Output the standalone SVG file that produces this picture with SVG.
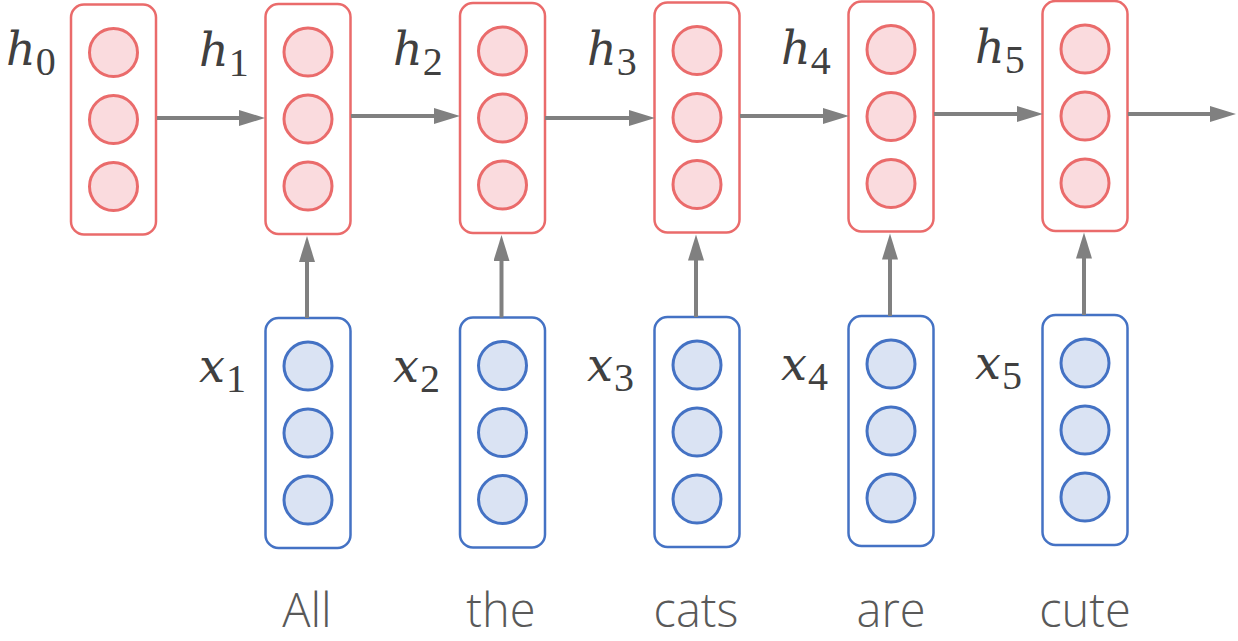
<svg xmlns="http://www.w3.org/2000/svg" width="1238" height="641" viewBox="0 0 1238 641">
  <style>
    .hbox { fill: #ffffff; stroke: #EA6B6B; stroke-width: 2.5; }
    .hdot { fill: #FADBDE; stroke: #EA6B6B; stroke-width: 3; }
    .xbox { fill: #ffffff; stroke: #4472C4; stroke-width: 2.5; }
    .xdot { fill: #DAE3F3; stroke: #4472C4; stroke-width: 3; }
    .edge { stroke: #808080; stroke-width: 4; fill: none; marker-end: url(#head); }
    .math { font-family: "DejaVu Serif", "Liberation Serif", serif; font-style: italic; font-size: 46px; fill: #404040; }
    .sub { font-family: "Liberation Serif", serif; font-style: normal; font-size: 40px; }
    .word { font-family: "Open Sans", "Liberation Sans", sans-serif; font-weight: 300; font-size: 47px; fill: #595959; text-anchor: middle; }
  </style>
  <defs>
    <marker id="head" markerUnits="userSpaceOnUse" markerWidth="27" markerHeight="16" refX="1" refY="8" orient="auto">
      <path d="M0,0 L26,8 L0,16 z" fill="#808080"/>
    </marker>
    <g id="hcell">
      <rect class="hbox" x="-42.5" y="-115" width="85" height="230" rx="13"/>
      <circle class="hdot" cx="0" cy="-67" r="24"/>
      <circle class="hdot" cx="0" cy="0" r="24"/>
      <circle class="hdot" cx="0" cy="67" r="24"/>
    </g>
    <g id="xcell">
      <rect class="xbox" x="-42.5" y="-115" width="85" height="230" rx="13"/>
      <circle class="xdot" cx="0" cy="-67" r="24"/>
      <circle class="xdot" cx="0" cy="0" r="24"/>
      <circle class="xdot" cx="0" cy="67" r="24"/>
    </g>
  </defs>

  <!-- hidden states -->
  <g id="h0"><use href="#hcell" x="113.5" y="119.5"/><text class="math" x="6" y="65">h<tspan class="sub" dy="10">0</tspan></text></g>
  <g id="h1"><use href="#hcell" x="308" y="119"/><text class="math" x="199" y="66">h<tspan class="sub" dy="10">1</tspan></text></g>
  <g id="h2"><use href="#hcell" x="502.5" y="118"/><text class="math" x="393" y="65">h<tspan class="sub" dy="10">2</tspan></text></g>
  <g id="h3"><use href="#hcell" x="697" y="117.5"/><text class="math" x="587" y="65">h<tspan class="sub" dy="10">3</tspan></text></g>
  <g id="h4"><use href="#hcell" x="891" y="116.5"/><text class="math" x="781" y="64">h<tspan class="sub" dy="10">4</tspan></text></g>
  <g id="h5"><use href="#hcell" x="1085" y="116"/><text class="math" x="975" y="63">h<tspan class="sub" dy="10">5</tspan></text></g>

  <!-- word inputs -->
  <g id="x1"><use href="#xcell" x="308" y="433"/><text class="math" x="199" y="382">x<tspan class="sub" dx="1" dy="10">1</tspan></text><text class="word" x="307" y="627">All</text></g>
  <g id="x2"><use href="#xcell" x="502.5" y="432.5"/><text class="math" x="393" y="382">x<tspan class="sub" dx="1" dy="10">2</tspan></text><text class="word" x="501" y="627">the</text></g>
  <g id="x3"><use href="#xcell" x="697" y="432"/><text class="math" x="587" y="381">x<tspan class="sub" dx="1" dy="10">3</tspan></text><text class="word" x="696" y="627">cats</text></g>
  <g id="x4"><use href="#xcell" x="891" y="431"/><text class="math" x="781" y="380">x<tspan class="sub" dx="1" dy="10">4</tspan></text><text class="word" x="891" y="627">are</text></g>
  <g id="x5"><use href="#xcell" x="1085" y="430"/><text class="math" x="975" y="379">x<tspan class="sub" dx="1" dy="10">5</tspan></text><text class="word" x="1085" y="627">cute</text></g>

  <!-- connectors -->
  <g id="connectors">
    <line class="edge" x1="157" y1="118" x2="240" y2="118"/>
    <line class="edge" x1="351" y1="116" x2="435" y2="116"/>
    <line class="edge" x1="545" y1="118" x2="630" y2="118"/>
    <line class="edge" x1="740" y1="116" x2="824" y2="116"/>
    <line class="edge" x1="934" y1="114" x2="1018" y2="114"/>
    <line class="edge" x1="1128" y1="114" x2="1211" y2="114"/>
    <line class="edge" x1="307" y1="318" x2="307" y2="261"/>
    <line class="edge" x1="501.5" y1="317.5" x2="501.5" y2="260"/>
    <line class="edge" x1="696" y1="317" x2="696" y2="259.5"/>
    <line class="edge" x1="890" y1="316" x2="890" y2="258.5"/>
    <line class="edge" x1="1084" y1="315" x2="1084" y2="257.5"/>
  </g>
</svg>
